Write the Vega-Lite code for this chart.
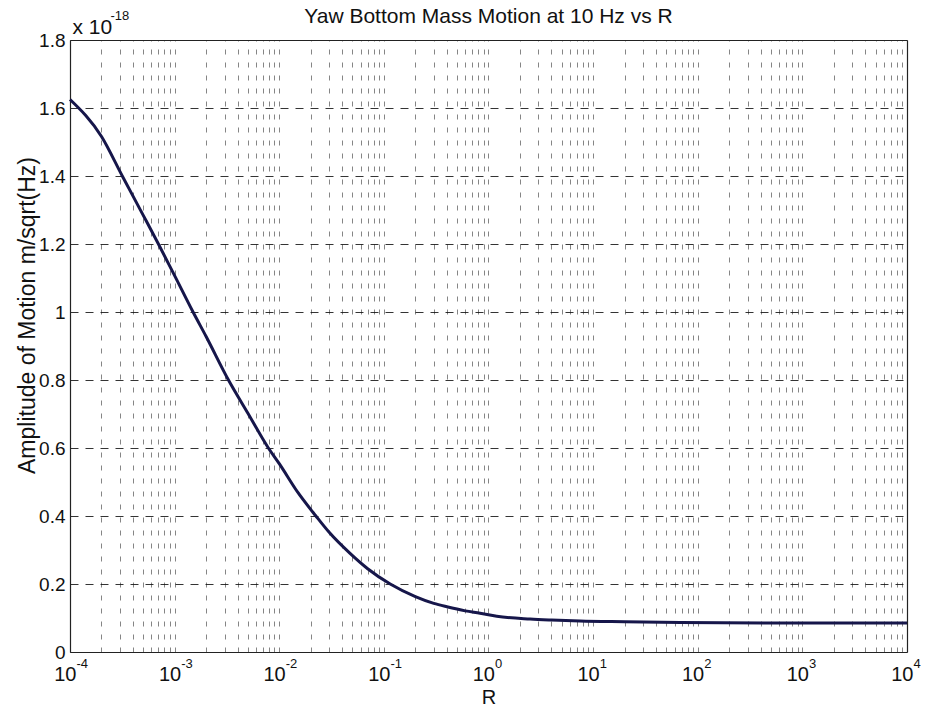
{
  "$schema": "https://vega.github.io/schema/vega-lite/v6.json",
  "width": 837,
  "height": 612,
  "autosize": "none",
  "padding": {"left": 70, "top": 40, "right": 18, "bottom": 54},
  "background": "white",
  "config": {
    "font": "Liberation Sans",
    "view": {"stroke": null},
    "axis": {"labelFont": "Liberation Sans", "titleFont": "Liberation Sans", "labelColor": "#111", "titleColor": "#111", "titleFontWeight": "normal", "domainColor": "#222", "domainWidth": 1.2}
  },
  "data": {"values": [
    {"R": 0.0001, "amp": 1.625},
    {"R": 0.0002, "amp": 1.516},
    {"R": 0.000316, "amp": 1.40},
    {"R": 0.0005, "amp": 1.285},
    {"R": 0.0007, "amp": 1.2},
    {"R": 0.001, "amp": 1.107},
    {"R": 0.0015, "amp": 1.0},
    {"R": 0.002, "amp": 0.928},
    {"R": 0.00327, "amp": 0.8},
    {"R": 0.005, "amp": 0.703},
    {"R": 0.00787, "amp": 0.6},
    {"R": 0.01, "amp": 0.554},
    {"R": 0.015, "amp": 0.47},
    {"R": 0.0224, "amp": 0.4},
    {"R": 0.03, "amp": 0.352},
    {"R": 0.0475, "amp": 0.29},
    {"R": 0.07, "amp": 0.245},
    {"R": 0.115, "amp": 0.2},
    {"R": 0.2, "amp": 0.163},
    {"R": 0.3, "amp": 0.143},
    {"R": 0.4, "amp": 0.133},
    {"R": 0.6, "amp": 0.121},
    {"R": 0.83, "amp": 0.114},
    {"R": 1.2, "amp": 0.105},
    {"R": 2.5, "amp": 0.097},
    {"R": 4, "amp": 0.094},
    {"R": 7.5, "amp": 0.091},
    {"R": 20, "amp": 0.089},
    {"R": 68, "amp": 0.087},
    {"R": 1000, "amp": 0.085},
    {"R": 10000, "amp": 0.085}
  ]},
  "resolve": {"axis": {"x": "independent", "y": "independent"}},
  "layer": [
    {
      "mark": {"type": "line", "strokeOpacity": 0},
      "encoding": {
        "x": {"field": "R", "type": "quantitative",
          "scale": {"type": "log", "domain": [0.0001, 10000], "nice": false},
          "axis": {"orient": "top", "values": [0.0001,0.0002,0.0003,0.0004,0.0005,0.0006,0.0007,0.0008,0.0009,0.001,0.002,0.003,0.004,0.005,0.006,0.007,0.008,0.009,0.01,0.02,0.03,0.04,0.05,0.06,0.07,0.08,0.09,0.1,0.2,0.3,0.4,0.5,0.6,0.7,0.8,0.9,1,2,3,4,5,6,7,8,9,10,20,30,40,50,60,70,80,90,100,200,300,400,500,600,700,800,900,1000,2000,3000,4000,5000,6000,7000,8000,9000,10000],
            "labels": false, "ticks": false, "domain": true, "grid": true,
            "gridColor": "#444", "gridOpacity": 0.65, "gridDash": [5, 8], "gridWidth": 1,
            "title": "Yaw Bottom Mass Motion at 10 Hz vs R", "titleFontSize": 21, "titleX": 418, "titleY": -18, "titleAlign": "center", "titleBaseline": "alphabetic"}},
        "y": {"field": "amp", "type": "quantitative",
          "scale": {"domain": [0, 1.8], "nice": false, "zero": true},
          "axis": {"orient": "left", "labels": false, "ticks": false, "domain": false, "grid": false,
            "title": "x 10", "titleFontSize": 21, "titleAngle": 0, "titleX": 2, "titleY": -7, "titleAlign": "left", "titleBaseline": "alphabetic"}}
      }
    },
    {
      "mark": {"type": "line", "strokeOpacity": 0},
      "encoding": {
        "x": {"field": "R", "type": "quantitative",
          "scale": {"type": "log", "domain": [0.0001, 10000], "nice": false},
          "axis": {"orient": "bottom", "values": [0.0001,0.001,0.01,0.1,1,10,100,1000,10000],
            "labelExpr": "toString(round(log(datum.value)/LN10))",
            "labelAlign": "left", "labelOffset": 6, "labelFontSize": 13, "labelPadding": 5, "labelBaseline": "top",
            "labelFlush": false, "labelOverlap": false,
            "ticks": false, "domain": false, "grid": false, "title": null}},
        "y": {"field": "amp", "type": "quantitative",
          "scale": {"domain": [0, 1.8], "nice": false, "zero": true},
          "axis": {"orient": "right", "labels": false, "ticks": false, "domain": true, "grid": false,
            "title": "-18", "titleFontSize": 13, "titleAngle": 0, "titleX": -797, "titleY": -21, "titleAlign": "left", "titleBaseline": "alphabetic"}}
      }
    },
    {
      "mark": {"type": "line", "color": "#16164a", "strokeWidth": 3, "interpolate": "monotone"},
      "encoding": {
        "x": {"field": "R", "type": "quantitative",
          "scale": {"type": "log", "domain": [0.0001, 10000], "nice": false},
          "axis": {"orient": "bottom", "values": [0.0001,0.001,0.01,0.1,1,10,100,1000,10000],
            "labelExpr": "'10'", "labelAlign": "right", "labelOffset": 6, "labelFontSize": 20, "labelPadding": 12, "labelBaseline": "top",
            "labelFlush": false, "labelOverlap": false,
            "ticks": false, "domain": true, "grid": false,
            "title": "R", "titleFontSize": 20, "titleY": 51, "titleBaseline": "alphabetic"}},
        "y": {"field": "amp", "type": "quantitative",
          "scale": {"domain": [0, 1.8], "nice": false, "zero": true},
          "axis": {"orient": "left", "values": [0, 0.2, 0.4, 0.6, 0.8, 1, 1.2, 1.4, 1.6, 1.8], "format": "~g",
            "labelFontSize": 19, "labelPadding": 5, "ticks": false, "domain": true,
            "grid": true, "gridColor": "#111", "gridOpacity": 0.85, "gridDash": [8, 7], "gridWidth": 1,
            "title": "Amplitude of Motion m/sqrt(Hz)", "titleFontSize": 23, "titleX": -36, "titleY": 275, "titleAngle": -90, "titleAlign": "center", "titleBaseline": "alphabetic"}}
      }
    }
  ]
}
